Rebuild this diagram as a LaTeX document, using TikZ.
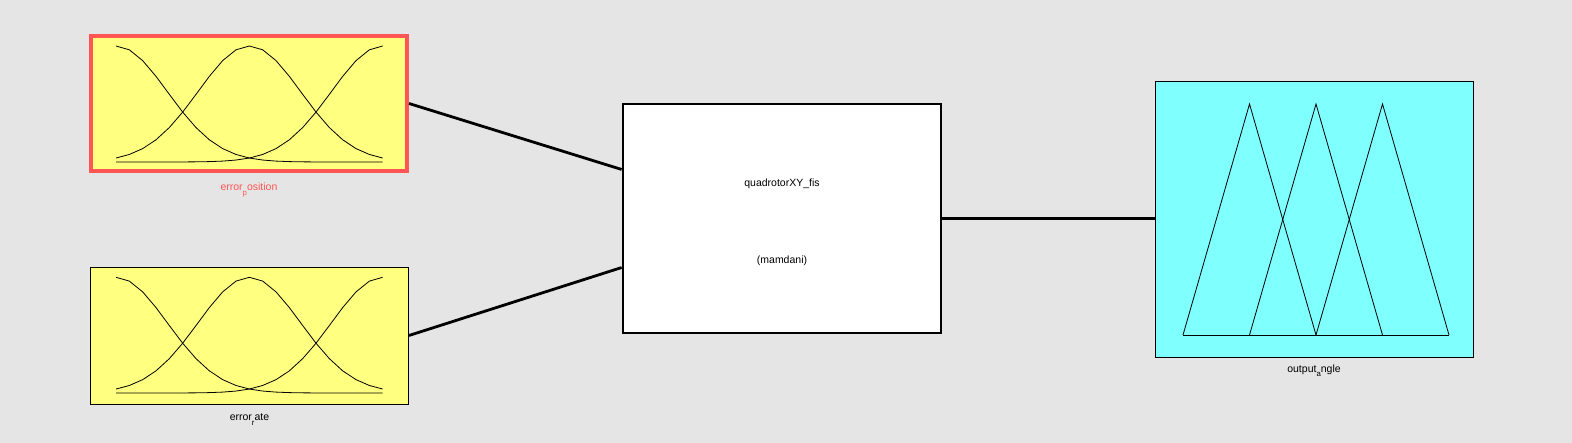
\documentclass[tikz,border=0pt]{standalone}
\usepackage{fontspec}
\setmainfont{Liberation Sans}
\usetikzlibrary{positioning}

\definecolor{bggray}{RGB}{229,229,229}
\definecolor{inyellow}{RGB}{255,255,128}
\definecolor{outcyan}{RGB}{128,255,255}
\definecolor{selred}{RGB}{255,85,85}
\newcommand{\lowsub}[1]{\raisebox{-4.6pt}{\fontsize{7.8}{8}\selectfont #1}}

\begin{document}
\begin{tikzpicture}[x=1pt,y=-1pt,font=\fontsize{10.5}{12}\selectfont,
	var/.style={draw,line width=0.9pt,fill=inyellow,minimum width=318pt,minimum height=137pt,inner sep=0pt},
	fis/.style={draw,line width=2.8pt,fill=white,minimum width=318pt,minimum height=229pt,align=center,font=\fontsize{10.5}{77}\selectfont},
	lbl/.style={inner sep=0pt},
	link/.style={line width=2.8pt},
	mf/.style={line width=0.8pt}]
			\useasboundingbox[fill=bggray] (0,0) rectangle (1572,443);
			\node[var,line width=4pt,draw=selred,minimum width=316pt,minimum height=135pt] (err_p) at (249,103.5) {};
			\node[var] (err_r) at (249.5,335.5) {};
			\node[fis] (q_fis) at (782,218.5) {\rule{0pt}{15.6pt}quadrotorXY\_fis\\(mamdani)};
			\node[var,fill=outcyan,minimum height=276pt] (out_a) at (1314,219.5) {};
			\node[lbl,text=selred] [below=10pt of err_p] (l_p) {error\lowsub{p}osition};
			\node[lbl] [below=9.5pt of err_r] (l_r) {error\lowsub{r}ate};
			\node[lbl] [below=6.5pt of out_a] (l_a) {output\lowsub{a}ngle};
			% membership functions
			\foreach \yb/\h in {162/116,393/115.7}
				\foreach \c in {0,0.5,1}
					\draw[mf] plot[domain=0:1,samples=21] ({116+266.7*\x},{\yb-\h*exp(-((\x-\c)^2)/0.0741)});
			\foreach \p in {1249.5,1316,1382.5}
				\draw[mf] (\p-66.5,335) -- (\p,104) -- (\p+66.5,335);
			\draw[mf] (1183,335) -- (1449,335);
			\path[link]
			(err_p.east) edge (q_fis.163)
			(err_r.east) edge (q_fis.197)
			(q_fis.east) edge (q_fis.east -| out_a.west);
		\end{tikzpicture}
\end{document}
